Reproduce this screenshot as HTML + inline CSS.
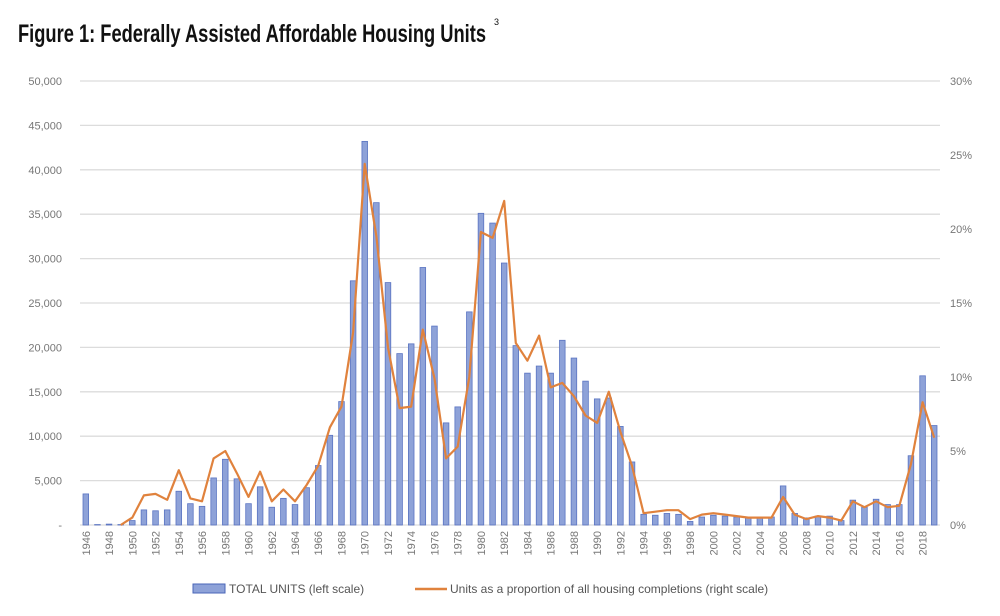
<!DOCTYPE html>
<html><head><meta charset="utf-8"><style>
body{margin:0;background:#fff;width:1000px;height:616px;overflow:hidden}
svg{display:block;font-family:"Liberation Sans",sans-serif}
</style></head><body>
<svg id="chart" width="1000" height="616" viewBox="0 0 1000 616">
<text x="18" y="42" font-family="'Liberation Sans Narrow','Liberation Sans',sans-serif" font-weight="bold" font-size="25" fill="#111" textLength="468" lengthAdjust="spacingAndGlyphs">Figure 1: Federally Assisted Affordable Housing Units</text>
<text x="494" y="25" font-size="9" fill="#111">3</text>
<g id="grid"></g><g id="bars"></g><g id="line"></g><g id="axes"></g>
<g>
<rect x="193" y="584" width="32" height="9" fill="#8ea2d8" stroke="#4a66b8" stroke-width="1"/>
<text x="229" y="593" font-size="12" fill="#555">TOTAL UNITS (left scale)</text>
<line x1="415" y1="589" x2="447" y2="589" stroke="#e0823d" stroke-width="2.5"/>
<text x="450" y="593" font-size="12" fill="#555">Units as a proportion of all housing completions (right scale)</text>
</g>
</svg>
<script>
const years=[];for(let y=1946;y<=2019;y++)years.push(y);
const units=[3500,50,100,50,500,1700,1600,1700,3800,2400,2100,5300,7400,5200,2400,4300,2000,3000,2300,4200,6700,10100,13900,27500,43200,36300,27300,19300,20400,29000,22400,11500,13300,24000,35100,34000,29500,20200,17100,17900,17100,20800,18800,16200,14200,14300,11100,7100,1200,1100,1300,1200,400,900,1100,1000,900,900,900,900,4400,1300,800,1000,1000,500,2800,2000,2900,2300,2300,7800,16800,11200];
const share=[null,null,null,0,0.5,2.0,2.1,1.7,3.7,1.8,1.6,4.5,5.0,3.5,1.9,3.6,1.6,2.4,1.6,2.7,4.0,6.6,8.0,13.0,24.4,19.5,12.0,7.9,8.0,13.2,9.9,4.5,5.3,10.0,19.8,19.4,21.9,12.3,11.1,12.8,9.3,9.6,8.7,7.4,6.9,9.0,6.3,4.0,0.8,0.9,1.0,1.0,0.4,0.7,0.8,0.7,0.6,0.5,0.5,0.5,1.9,0.7,0.4,0.6,0.5,0.3,1.6,1.2,1.6,1.2,1.3,4.1,8.3,5.9];
const leftTicks=[0,5000,10000,15000,20000,25000,30000,35000,40000,45000,50000];
const rightTicks=[0,5,10,15,20,25,30];
const NS="http://www.w3.org/2000/svg";
const x0=80,x1=940,yB=525,yT=81;
const step=(x1-x0)/years.length;
const xs=i=>x0+step*(i+0.5);
const yL=v=>yB-(v/50000)*(yB-yT);
const yR=v=>yB-(v/30)*(yB-yT);
function mk(t,a,p){const e=document.createElementNS(NS,t);for(const k in a)e.setAttribute(k,a[k]);p.appendChild(e);return e;}
const g=document.getElementById('grid'),b=document.getElementById('bars'),l=document.getElementById('line'),ax=document.getElementById('axes');
leftTicks.forEach(v=>{
 const ln=mk('line',{x1:x0,x2:x1,y1:yL(v),y2:yL(v),stroke:'#dcdcdc','stroke-width':1.3},g);
 
 
 const t=mk('text',{x:62,y:yL(v)+4,'text-anchor':'end','font-size':11,fill:'#777'},ax);
 t.textContent=v===0?'-':v.toLocaleString('en-US');
 
 
});
rightTicks.forEach(v=>{
 const t=mk('text',{x:950,y:yR(v)+4,'font-size':11,fill:'#777'},ax);
 t.textContent=v+'%';
 
 
});
units.forEach((v,i)=>{
 const r=mk('rect',{x:xs(i)-2.8,y:yL(v),width:5.6,height:yB-yL(v),fill:'#8ea2d8',stroke:'#5a74c2','stroke-width':0.8},b);
 
 
});
let d='';share.forEach((v,i)=>{if(v===null)return;d+=(d?'L':'M')+xs(i).toFixed(1)+','+yR(v).toFixed(1);});
const p=mk('path',{d:d,fill:'none',stroke:'#e0823d','stroke-width':2.2,'stroke-linejoin':'round'},l);


years.forEach((y,i)=>{
 if(y%2)return;
 const X=xs(i)+4,Y=531;
 const t=mk('text',{x:X,y:Y,'text-anchor':'end','font-size':11,fill:'#777',transform:`rotate(-90 ${X} ${Y})`},ax);
 t.textContent=y;
 
 
});
</script>
</body></html>
